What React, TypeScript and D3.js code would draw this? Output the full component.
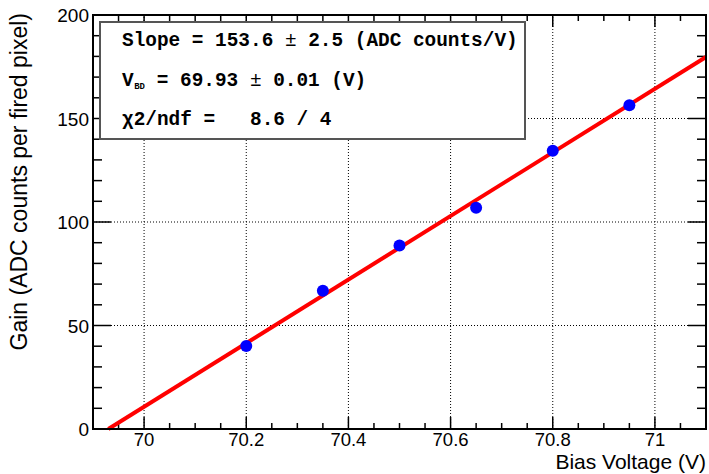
import React from 'react';
import * as d3 from 'd3';

const biasVoltage = [70.2, 70.35, 70.5, 70.65, 70.8, 70.95];
const gain = [40.1, 66.8, 88.6, 106.9, 134.4, 156.4];
const fitSlope = 153.6;
const fitVbd = 69.93;

const xMajor = [70, 70.2, 70.4, 70.6, 70.8, 71];
const xLabels = ['70', '70.2', '70.4', '70.6', '70.8', '71'];
const yMajor = [0, 50, 100, 150, 200];
const yLabels = ['0', '50', '100', '150', '200'];

const W = 709;
const H = 474;
const margin = { top: 15, right: 3, bottom: 45, left: 93 };

const mono = "'Liberation Mono', 'DejaVu Sans Mono', monospace";
const sans = "'Liberation Sans', Arial, sans-serif";

const App = () => {
  const x = d3.scaleLinear().domain([69.9, 71.1]).range([margin.left, W - margin.right]);
  const y = d3.scaleLinear().domain([0, 200]).range([H - margin.bottom, margin.top]);

  const [x0, x1] = x.range();
  const [y0, y1] = y.range();

  const xMinor = d3.range(69.9, 71.1 + 1e-6, 0.05).filter(v => !xMajor.some(m => Math.abs(m - v) < 1e-6));
  const yMinor = d3.range(0, 201, 10).filter(v => v % 50 !== 0);

  const fitLine = d3.line<number>()
    .x(d => x(d))
    .y(d => y(fitSlope * (d - fitVbd)));

  // stats box layout
  const bx = 100, by = 22, bw = 425, bh = 117;
  const tx = 122;
  const cw = 11.6;
  const rowY = [46, 86, 125];

  return (
    <svg width={W} height={H} style={{ position: 'absolute', left: 0, top: 0, background: '#fff' }}>
      {/* grid */}
      <g stroke="#000" strokeWidth={1} strokeDasharray="1 2">
        {xMajor.map(v => (
          <line key={`gx${v}`} x1={x(v)} x2={x(v)} y1={y0} y2={y1} />
        ))}
        {yMajor.slice(1, -1).map(v => (
          <line key={`gy${v}`} x1={x0} x2={x1} y1={y(v)} y2={y(v)} />
        ))}
      </g>

      {/* ticks on all four sides */}
      <g stroke="#000" strokeWidth={1.5}>
        {xMajor.map(v => (
          <g key={`xt${v}`}>
            <line x1={x(v)} x2={x(v)} y1={y0} y2={y0 - 12} />
            <line x1={x(v)} x2={x(v)} y1={y1} y2={y1 + 12} />
          </g>
        ))}
        {xMinor.map(v => (
          <g key={`xm${v}`}>
            <line x1={x(v)} x2={x(v)} y1={y0} y2={y0 - 6} />
            <line x1={x(v)} x2={x(v)} y1={y1} y2={y1 + 6} />
          </g>
        ))}
        {yMajor.map(v => (
          <g key={`yt${v}`}>
            <line x1={x0} x2={x0 + 18} y1={y(v)} y2={y(v)} />
            <line x1={x1} x2={x1 - 18} y1={y(v)} y2={y(v)} />
          </g>
        ))}
        {yMinor.map(v => (
          <g key={`ym${v}`}>
            <line x1={x0} x2={x0 + 9} y1={y(v)} y2={y(v)} />
            <line x1={x1} x2={x1 - 9} y1={y(v)} y2={y(v)} />
          </g>
        ))}
      </g>

      {/* stats box */}
      <rect x={bx} y={by} width={bw} height={bh} fill="#fff" stroke="#555" strokeWidth={2} />
      <g fontFamily={mono} fontWeight="bold" fontSize={19.4} fill="#000" style={{ whiteSpace: 'pre' }}>
        <text x={tx} y={rowY[0]} xmlSpace="preserve">
          {'Slope = 153.6 '}
          <tspan fontWeight="normal">±</tspan>
          {' 2.5 (ADC counts/V)'}
        </text>
        <text x={tx} y={rowY[1]}>V</text>
        <text x={tx + cw * 1.05} y={rowY[1] + 3} fontSize={9}>BD</text>
        <text x={tx + cw * 3} y={rowY[1]} xmlSpace="preserve">
          {'= 69.93 '}
          <tspan fontWeight="normal">±</tspan>
          {' 0.01 (V)'}
        </text>
        <text x={tx} y={rowY[2]} xmlSpace="preserve">{'χ2/ndf =   8.6 / 4'}</text>
      </g>

      {/* fit */}
      <path d={fitLine([fitVbd, 71.1]) || ''} fill="none" stroke="#ff0000" strokeWidth={4} />

      {/* data */}
      {biasVoltage.map((v, i) => (
        <circle key={v} cx={x(v)} cy={y(gain[i])} r={6} fill="#0000ff" />
      ))}

      {/* frame */}
      <rect x={x0} y={y1} width={x1 - x0} height={y0 - y1} fill="none" stroke="#000" strokeWidth={2} />

      {/* tick labels */}
      <g fontFamily={sans} fontSize={18.5} fill="#000">
        {xMajor.map((v, i) => (
          <text key={`xl${v}`} x={x(v)} y={y0 + 17} textAnchor="middle">{xLabels[i]}</text>
        ))}
      </g>
      <g fontFamily={sans} fontSize={19} fill="#000">
        {yMajor.map((v, i) => (
          <text key={`yl${v}`} x={x0 - 4} y={y(v) + 7} textAnchor="end">{yLabels[i]}</text>
        ))}
      </g>

      {/* axis titles */}
      <text x={x1} y={469} textAnchor="end" fontFamily={sans} fontSize={21}>Bias Voltage (V)</text>
      <text transform={`translate(27, 13) rotate(-90)`} textAnchor="end" fontFamily={sans} fontSize={23}>
        Gain (ADC counts per fired pixel)
      </text>
    </svg>
  );
};

export default App;
